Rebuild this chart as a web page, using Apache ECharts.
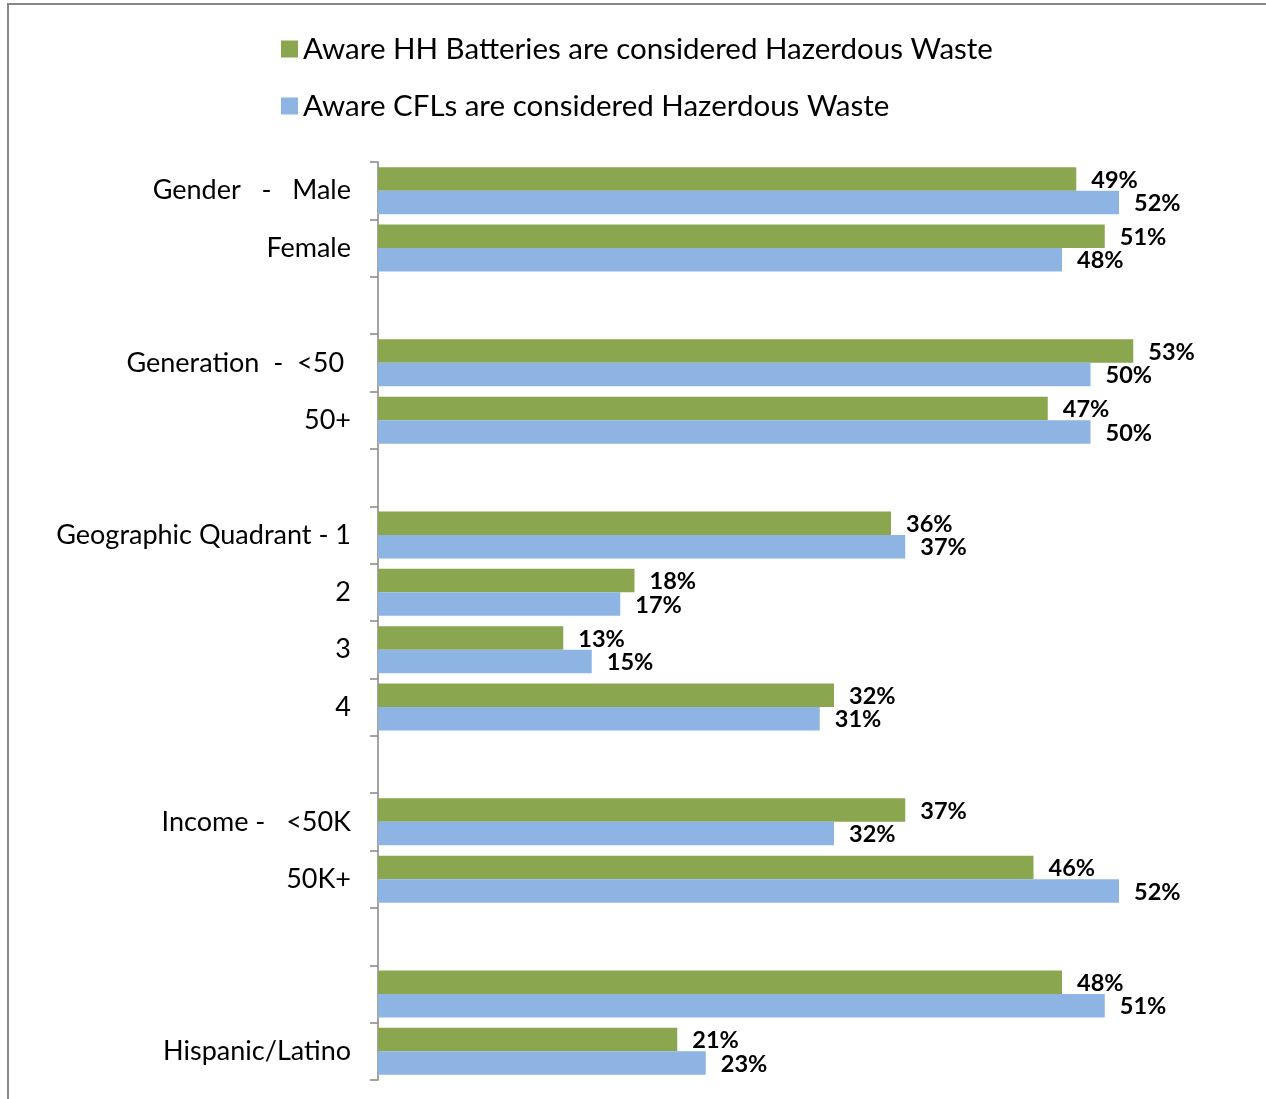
<!DOCTYPE html>
<html>
<head>
<meta charset="utf-8">
<script src="https://cdn.jsdelivr.net/npm/echarts@6/dist/echarts.min.js"></script>
<style>
  html, body { margin: 0; padding: 0; background: #fff; }
  #main { width: 1266px; height: 1099px; }
</style>
</head>
<body>
<div id="main"></div>
<script>
// categories top to bottom (blank rows separate the groups)
const categories = [
  'Gender   -   Male', 'Female', '',
  'Generation  -  <50 ', '50+', '',
  'Geographic Quadrant - 1', '2', '3', '4', '',
  'Income -   <50K', '50K+', '',
  '', 'Hispanic/Latino'
];
const seriesNames = [
  'Aware HH Batteries are considered Hazerdous Waste',
  'Aware CFLs are considered Hazerdous Waste'
];
const batteries = [49, 51, null, 53, 47, null, 36, 18, 13, 32, null, 37, 46, null, 48, 21];
const cfls      = [52, 48, null, 50, 50, null, 37, 17, 15, 31, null, 32, 52, null, 51, 23];

const FONT = 'Lato';
const myChart = echarts.init(document.getElementById('main'));

const labelOpt = {
  show: true,
  position: 'right',
  distance: 15,
  offset: [0, 1],
  formatter: '{c}%',
  fontFamily: FONT,
  fontWeight: 'bold',
  fontSize: 23.5,
  color: '#000'
};

const option = {
  animation: false,
  textStyle: { fontFamily: FONT },
  graphic: [{
    type: 'rect',
    shape: { x: 8, y: 4, width: 1300, height: 1200 },
    style: { fill: 'none', stroke: '#878787', lineWidth: 2 }
  }],
  legend: {
    orient: 'vertical',
    left: 276,
    top: 29,
    itemWidth: 17,
    itemHeight: 17,
    itemGap: 27,
    icon: 'rect',
    textStyle: { fontFamily: FONT, fontSize: 29.5, lineHeight: 30, color: '#000' },
    data: seriesNames
  },
  grid: { left: 378, top: 162, width: 855, height: 918, containLabel: false },
  xAxis: {
    type: 'value',
    min: 0,
    max: 60,
    show: false
  },
  yAxis: {
    type: 'category',
    inverse: true,
    data: categories,
    axisLine: { show: true, lineStyle: { color: '#868686', width: 1.5 } },
    axisTick: { show: true, alignWithLabel: false, length: 8, lineStyle: { color: '#868686', width: 1.5 } },
    axisLabel: { fontFamily: FONT, fontSize: 27, color: '#000', margin: 27 }
  },
  series: [
    {
      name: seriesNames[0],
      type: 'bar',
      data: batteries,
      barWidth: 23.5,
      barGap: '0%',
      itemStyle: { color: '#8AA64F' },
      label: labelOpt
    },
    {
      name: seriesNames[1],
      type: 'bar',
      data: cfls,
      barWidth: 23.5,
      barGap: '0%',
      itemStyle: { color: '#8EB4E3' },
      label: labelOpt
    }
  ]
};

myChart.setOption(option);
</script>
</body>
</html>
